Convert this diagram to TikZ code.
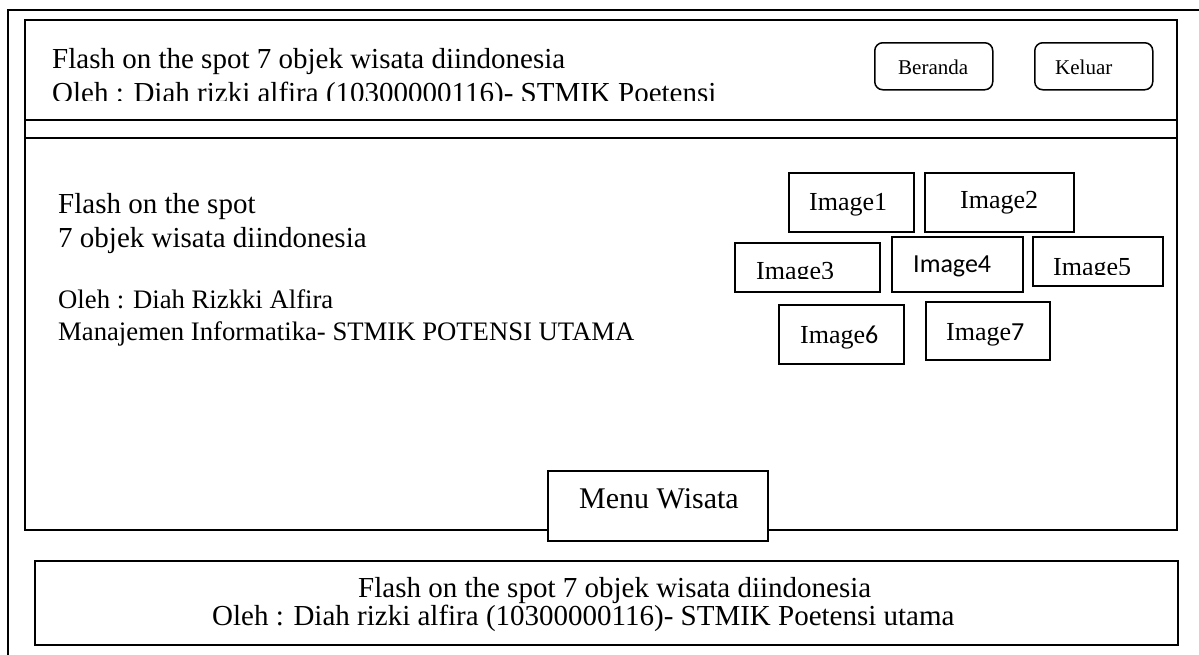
\documentclass[tikz,border=0pt]{standalone}
\usepackage{fontspec}
\setmainfont{Liberation Serif}
\newfontfamily\calib{Carlito}
\begin{document}
\begin{tikzpicture}[x=1pt,y=-1pt,
  frame/.style={line width=1.8pt},
  boxline/.style={draw, line width=1.5pt, inner sep=0pt, anchor=north west},
  btn/.style={boxline, rounded corners=8pt},
  lbl/.style={inner sep=0pt, anchor=base west},
  big/.style={font=\fontsize{29}{34}\selectfont},
  mid/.style={font=\fontsize{26.7}{32}\selectfont},
  img/.style={font=\fontsize{26}{30}\selectfont},
  small/.style={font=\fontsize{21}{25}\selectfont},
]
\useasboundingbox (0,0) rectangle (1199,654);
% outer frame (runs off the page)
\begin{scope}
  \clip (0,0) rectangle (1199,654);
  \draw[line width=1.5pt] (8,10) rectangle (1240,700);
\end{scope}
% main window
\draw[frame] (25,20) rectangle (1177,530);
\draw[frame] (25,120) -- (1177,120);
\draw[frame] (25,138) -- (1177,138);
% header text (clipped)
\begin{scope}
  \clip (25,20) rectangle (1177,100.5);
  \node[lbl,big] (h1) at (52,68) {Flash on the spot 7 objek wisata diindonesia};
  \node[lbl,big] (h2) at (52,102) {Oleh : Diah rizki alfira (10300000116)- STMIK Poetensi};
\end{scope}
% buttons
\node[btn, minimum width=118pt, minimum height=47pt] (beranda) at (874,42) {};
\node[lbl,small] (berandat) at (898,74) {Beranda};
\node[btn, minimum width=118pt, minimum height=47pt] (keluar) at (1034,42) {};
\node[lbl,small] (keluart) at (1055,74) {Keluar};
% left texts
\node[lbl,big] (t1) at (58,213) {Flash on the spot};
\node[lbl,big] (t2) at (58,247) {7 objek wisata diindonesia};
\node[lbl,mid] (t3) at (58,308) {Oleh : Diah Rizkki Alfira};
\node[lbl,mid] (t4) at (58,340) {Manajemen Informatika- STMIK POTENSI UTAMA};
% image boxes
\node[boxline, minimum width=125pt, minimum height=59pt] (img1) at (788,172) {};
\node[lbl,img] (img1t) at (809,210) {Image1};
\node[boxline, minimum width=149pt, minimum height=59pt] (img2) at (924,172) {};
\node[lbl,img] (img2t) at (960,208) {Image2};
\node[boxline, minimum width=145pt, minimum height=49pt] (img3) at (734,242) {};
\begin{scope}
  \clip (734,242) rectangle (879,278);
  \node[lbl,img] (img3t) at (756,279) {Image3};
\end{scope}
\node[boxline, minimum width=131pt, minimum height=55pt] (img4) at (891,236) {};
\node[lbl,font=\calib\fontsize{26}{30}\selectfont] (img4t) at (913,272) {Image4};
\node[boxline, minimum width=130pt, minimum height=49pt] (img5) at (1032,236) {};
\begin{scope}
  \clip (1032,236) rectangle (1162,274);
  \node[lbl,img] (img5t) at (1053,275) {Image5};
\end{scope}
\node[boxline, minimum width=125pt, minimum height=59pt] (img6) at (778,304) {};
\node[lbl,img] (img6t) at (800,343) {Image{\calib 6}};
\node[boxline, minimum width=124pt, minimum height=58pt] (img7) at (925,301) {};
\node[lbl,img] (img7t) at (946,340) {Image{\calib 7}};
% menu wisata
\node[boxline, fill=white, minimum width=220pt, minimum height=70pt] (menu) at (547,470) {};
\node[lbl,font=\fontsize{30}{35}\selectfont] (menut) at (579,508) {Menu Wisata};
% footer
\node[boxline, minimum width=1143pt, minimum height=84pt] (footer) at (34,560) {};
\node[lbl,big] (f1) at (358,597) {Flash on the spot 7 objek wisata diindonesia};
\node[lbl,big] (f2) at (212,625) {Oleh : Diah rizki alfira (10300000116)- STMIK Poetensi utama};
\end{tikzpicture}
\end{document}
